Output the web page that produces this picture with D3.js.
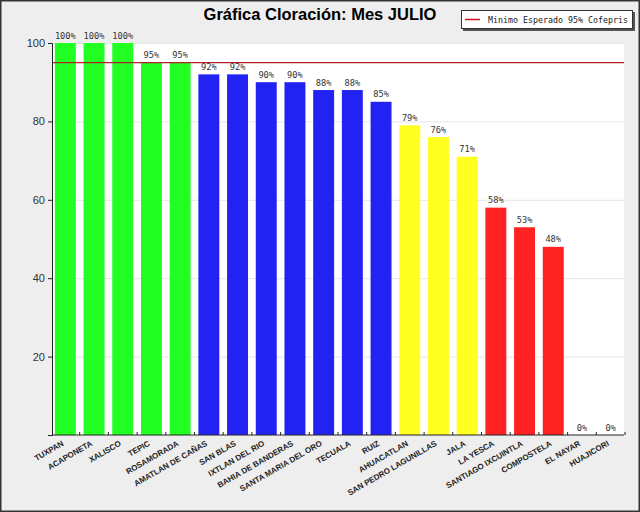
<!DOCTYPE html>
<meta charset="utf-8">
<style>
body { margin: 0; background: #fff; }
svg { display: block; }
.title { font-family: 'Liberation Sans', Arial, sans-serif; font-size: 16.5px; font-weight: bold; }
.ytick text { font-family: 'Liberation Sans', Arial, sans-serif; font-size: 11px; fill: #333; }
.cat { font-family: 'Liberation Sans', Arial, sans-serif; font-size: 8px; font-weight: bold; fill: #222; }
.val { font-family: 'DejaVu Sans Mono', monospace; font-size: 8.7px; fill: #333; }
.legend { font-family: 'DejaVu Sans Mono', monospace; font-size: 8.5px; fill: #222; }
</style>
<body>
<div id="chart"></div>
<script src="https://cdnjs.cloudflare.com/ajax/libs/d3/7.8.5/d3.min.js"></script>
<script>
var municipios = ['TUXPAN', 'ACAPONETA', 'XALISCO', 'TEPIC', 'ROSAMORADA', 'AMATLAN DE CAÑAS',
  'SAN BLAS', 'IXTLAN DEL RIO', 'BAHIA DE BANDERAS', 'SANTA MARIA DEL ORO', 'TECUALA', 'RUIZ',
  'AHUACATLAN', 'SAN PEDRO LAGUNILLAS', 'JALA', 'LA YESCA', 'SANTIAGO IXCUINTLA', 'COMPOSTELA',
  'EL NAYAR', 'HUAJICORI']
var cloracion = [100, 100, 100, 95, 95, 92, 92, 90, 90, 88, 88, 85, 79, 76, 71, 58, 53, 48, 0, 0]
var grupo = ['verde', 'verde', 'verde', 'verde', 'verde', 'azul', 'azul', 'azul', 'azul', 'azul', 'azul', 'azul',
  'amarillo', 'amarillo', 'amarillo', 'rojo', 'rojo', 'rojo', 'rojo', 'rojo']
var minimo = 95
var yTicks = [20, 40, 60, 80, 100]

var colores = { verde: '#22ff22', azul: '#2222f2', amarillo: '#ffff22', rojo: '#ff2222' }

var W = 640, H = 512
var pLeft = 52, pRight = 624, pTop = 43, pBottom = 435

var svg = d3.select('#chart').append('svg')
  .attr('width', W)
  .attr('height', H)

// fondo y borde
svg.append('rect')
  .attr('x', 0.5).attr('y', 0.5)
  .attr('width', W - 1).attr('height', H - 1)
  .attr('fill', '#eeeeee')
  .attr('stroke', '#333').attr('stroke-width', 2)

svg.append('rect')
  .attr('x', pLeft).attr('y', pTop)
  .attr('width', pRight - pLeft).attr('height', pBottom - pTop)
  .attr('fill', '#ffffff')

var x = d3.scaleBand()
  .domain(municipios)
  .range([pLeft, pRight])
  .paddingInner(0.27)
  .paddingOuter(0.1)

var y = d3.scaleLinear()
  .domain([0, 100])
  .range([pBottom, pTop])

// rejilla
svg.append('g')
  .selectAll('line')
  .data(yTicks)
  .enter().append('line')
  .attr('x1', pLeft).attr('x2', pRight)
  .attr('y1', function(d) { return y(d) + 0.5 })
  .attr('y2', function(d) { return y(d) + 0.5 })
  .attr('stroke', '#e6e6e6')

// barras
svg.append('g')
  .selectAll('rect')
  .data(municipios)
  .enter().append('rect')
  .attr('x', function(d) { return x(d) })
  .attr('y', function(d, i) { return y(cloracion[i]) })
  .attr('width', x.bandwidth())
  .attr('height', function(d, i) { return pBottom - y(cloracion[i]) })
  .attr('fill', function(d, i) { return colores[grupo[i]] })

// etiquetas de valor
svg.append('g')
  .selectAll('text')
  .data(municipios)
  .enter().append('text')
  .attr('class', 'val')
  .attr('x', function(d) { return x(d) + x.bandwidth() / 2 })
  .attr('y', function(d, i) { return y(cloracion[i]) - 4.5 })
  .attr('text-anchor', 'middle')
  .text(function(d, i) { return cloracion[i] + '%' })

// linea de minimo
svg.append('line')
  .attr('x1', pLeft).attr('x2', pRight)
  .attr('y1', y(minimo)).attr('y2', y(minimo))
  .attr('stroke', '#b0202a').attr('stroke-width', 1.2)

// eje y
var yAxis = svg.append('g')
  .attr('class', 'ytick')
  .attr('transform', 'translate(' + pLeft + ',0)')
  .call(d3.axisLeft(y).tickValues(yTicks).tickSize(4).tickPadding(3))
yAxis.select('.domain').attr('stroke', '#222')
yAxis.selectAll('.tick line').attr('stroke', '#222')

// eje x
svg.append('line')
  .attr('x1', pLeft).attr('x2', pRight)
  .attr('y1', pBottom).attr('y2', pBottom)
  .attr('stroke', '#222')

svg.append('g')
  .selectAll('line')
  .data(municipios)
  .enter().append('line')
  .attr('x1', function(d) { return x(d) + x.bandwidth() + x.step() * x.paddingInner() / 2 })
  .attr('x2', function(d) { return x(d) + x.bandwidth() + x.step() * x.paddingInner() / 2 })
  .attr('y1', pBottom).attr('y2', pBottom - 3)
  .attr('stroke', '#222')

svg.append('g')
  .selectAll('text')
  .data(municipios)
  .enter().append('text')
  .attr('class', 'cat')
  .attr('text-anchor', 'end')
  .attr('transform', function(d) {
    return 'translate(' + (x(d) + x.bandwidth() / 2 - 1) + ',' + (pBottom + 10) + ') rotate(-30)'
  })
  .text(function(d) { return d })

// titulo
svg.append('text')
  .attr('class', 'title')
  .attr('x', 320)
  .attr('y', 20)
  .attr('text-anchor', 'middle')
  .text('Gráfica Cloración: Mes JULIO')

// leyenda
svg.append('rect')
  .attr('x', 463).attr('y', 12)
  .attr('width', 172).attr('height', 19)
  .attr('fill', '#555')
var lg = svg.append('g')
lg.append('rect')
  .attr('x', 461.5).attr('y', 10.5)
  .attr('width', 171).attr('height', 18)
  .attr('fill', '#ffffff')
  .attr('stroke', '#333')
lg.append('line')
  .attr('x1', 465).attr('x2', 480)
  .attr('y1', 19.5).attr('y2', 19.5)
  .attr('stroke', '#d01020').attr('stroke-width', 1.5)
lg.append('text')
  .attr('class', 'legend')
  .attr('x', 488).attr('y', 22.5)
  .attr('textLength', 140)
  .attr('lengthAdjust', 'spacingAndGlyphs')
  .text('Minimo Esperado 95% Cofepris')
</script>
</body>
